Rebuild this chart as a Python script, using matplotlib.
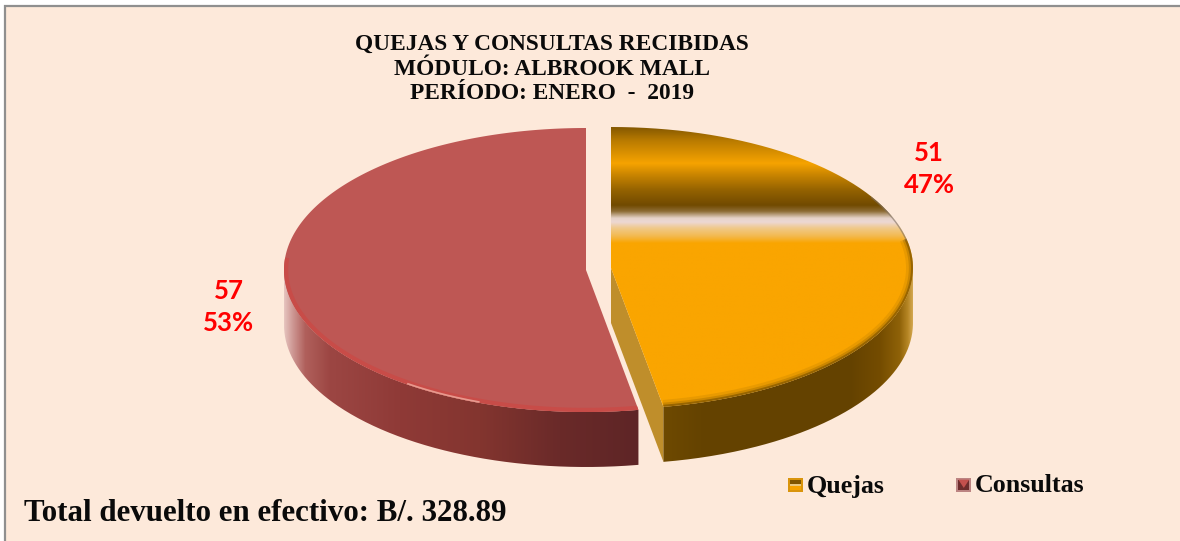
import numpy as np
import matplotlib
matplotlib.use("Agg")
import matplotlib.pyplot as plt
from matplotlib.colors import LinearSegmentedColormap
from matplotlib.patches import PathPatch, Rectangle, Polygon, Patch
from matplotlib.path import Path

# ---- data ----
categories = ["Quejas", "Consultas"]
values = [51, 57]
percent_labels = ["47%", "53%"]
title_lines = ["QUEJAS Y CONSULTAS RECIBIDAS", "MÓDULO: ALBROOK MALL", "PERÍODO: ENERO  -  2019"]
footer = "Total devuelto en efectivo: B/. 328.89"

BG = "#FDE9DA"
SERIF = "Liberation Serif"
W, H = 1180, 541

fig = plt.figure(figsize=(W / 100, H / 100), dpi=100, facecolor="white")
ax = fig.add_axes([0, 0, 1, 1])
ax.axis("off")

# panel
ax.add_patch(Rectangle((5, 6), W, H, facecolor=BG, edgecolor="#8f8f8f", lw=1.6, zorder=0))

# pie geometry
split = 360 * values[0] / sum(values)
RX, DEPTH = 302, 55
orange_c = (611, 268, 141)
red_c = (586, 270, 142)


def arc(c, a0, a1, dy=0, n=240):
    t = np.radians(np.linspace(a0, a1, n))
    return np.column_stack([c[0] + RX * np.sin(t), c[1] - c[2] * np.cos(t) + dy])


def make_path(xy):
    return Path(np.vstack([xy, xy[0]]), closed=False)


def gradient(xy, stops, horizontal, z):
    """Fill polygon xy with a gradient given as (pixel position, colour) stops."""
    poly = PathPatch(make_path(xy), facecolor="none", edgecolor="none", zorder=z)
    ax.add_patch(poly)
    lo, hi = stops[0][0], stops[-1][0]
    pos = [(p - lo) / (hi - lo) for p, _ in stops]
    cm = LinearSegmentedColormap.from_list("g", list(zip(pos, [c for _, c in stops])), N=512)
    ramp = np.linspace(0, 1, 512)
    if horizontal:
        img, ext = ramp[None, :], (lo, hi, xy[:, 1].max() + 1, xy[:, 1].min() - 1)
    else:
        img, ext = ramp[:, None], (xy[:, 0].min() - 1, xy[:, 0].max() + 1, hi, lo)
    im = ax.imshow(img, cmap=cm, extent=ext, aspect="auto", interpolation="bilinear", zorder=z)
    im.set_clip_path(poly)
    return poly


# ---- Consultas (red) ----
red_side = np.vstack([arc(red_c, split, 270), arc(red_c, 270, split, DEPTH)])
gradient(red_side,
         [(284, "#E6C4BE"), (292, "#CF9A96"), (305, "#B0605C"), (330, "#9C4643"), (400, "#8F3A37"),
          (480, "#83352F"), (560, "#6A2A29"), (640, "#5E2526")], True, 2)
red_top = np.vstack([[red_c[0], red_c[1]], arc(red_c, split, 360)])
red_face = Polygon(red_top, closed=True, facecolor="#BE5754", edgecolor="none", zorder=3)
ax.add_patch(red_face)
rim = arc(red_c, split, 275)
rim_line, = ax.plot(rim[:, 0], rim[:, 1], color="#C84C48", lw=6, zorder=4, solid_capstyle="butt")
rim_line.set_clip_path(red_face)
hl = arc(red_c, 201, 216)
hl_line, = ax.plot(hl[:, 0], hl[:, 1], color="#EBA296", lw=2.4, zorder=4, alpha=0.9)
hl_line.set_clip_path(red_face)

# ---- Quejas (orange) ----
ox, oy = orange_c[0], orange_c[1]
edge_pt = arc(orange_c, split, split, n=1)[0]
cut = np.array([[ox, oy], edge_pt, edge_pt + [0, DEPTH], [ox, oy + DEPTH]])
ax.add_patch(Polygon(cut, closed=True, facecolor="#BF8E2B", edgecolor="none", zorder=2))
orange_side = np.vstack([arc(orange_c, 90, split), arc(orange_c, split, 90, DEPTH)])
gradient(orange_side,
         [(660, "#6F4A00"), (700, "#654300"), (850, "#644200"), (880, "#744C00"), (900, "#8F6208"),
          (908, "#B68624"), (914, "#D9AE58")], True, 2)
orange_top = np.vstack([[ox, oy], arc(orange_c, 0, split)])
orange_face = gradient(orange_top,
         [(127, "#845800"), (140, "#B87A00"), (163, "#F6A300"), (175, "#C88400"), (190, "#946200"),
          (205, "#714A00"), (211, "#8C6B33"), (218, "#E6D3C9"), (222, "#EDD8D3"), (228, "#F0C98A"),
          (236, "#F3B94F"), (243, "#FAA500"), (410, "#FAA500")], False, 3)
for lw, al in [(10, 0.10), (6, 0.20), (3, 0.45)]:
    r = arc(orange_c, 78, split)
    ln, = ax.plot(r[:, 0], r[:, 1], color="#5A3C00", lw=lw, alpha=al, zorder=4, solid_capstyle="butt")
    ln.set_clip_path(orange_face)
g = arc(orange_c, 60, 78)
gl, = ax.plot(g[:, 0], g[:, 1], color="#807060", lw=2.0, alpha=0.6, zorder=4)
gl.set_clip_path(orange_face)

# ---- value labels ----
LAB = "Lato"
label_pos = [(929, 153, 185), (229, 291, 323)]
for (x, y1, y2), v, p in zip(label_pos, values, percent_labels):
    ax.text(x, y1, str(v), color="#FF0000", family=LAB, weight="bold", fontsize=18.5, ha="center", va="center", zorder=6)
    ax.text(x, y2, p, color="#FF0000", family=LAB, weight="bold", fontsize=18.5, ha="center", va="center", zorder=6)

# ---- title and footer ----
for y, line in zip([50, 75, 99], title_lines):
    ax.text(552, y, line, family=SERIF, weight="bold", fontsize=16.85, ha="center", va="baseline", color="#0A0A0A", zorder=6)
ax.text(24, 521, footer, family=SERIF, weight="bold", fontsize=22.3, ha="left", va="baseline", color="#0A0A0A", zorder=6)


# ---- legend with bevelled keys ----
KEY_SHAPES = {
    "Quejas": [([(0, 0), (1, 0), (1, 1), (0, 1)], "#D9940C"),
               ([(.14, .5), (.86, .5), (.86, .86), (.14, .86)], "#7E5500"),
               ([(.14, .42), (.86, .42), (.86, .54), (.14, .54)], "#E8C880"),
               ([(.14, .14), (.86, .14), (.86, .42), (.14, .42)], "#F5A200")],
    "Consultas": [([(0, 0), (1, 0), (1, 1), (0, 1)], "#BC8482"),
                  ([(.14, .14), (.86, .14), (.86, .86), (.14, .86)], "#6E2C2C"),
                  ([(.14, .86), (.86, .86), (.5, .3)], "#C4504D")],
}


class KeyHandler:
    def __init__(self, shapes):
        self.shapes = shapes

    def legend_artist(self, legend, orig, fontsize, box):
        x, y, w, h = box.xdescent, box.ydescent + 1.4, box.width, box.height
        tr = box.get_transform()
        for pts, col in self.shapes:
            box.add_artist(Polygon([(x + w * a, y + h * b) for a, b in pts], closed=True,
                                   facecolor=col, edgecolor="none", transform=tr))
        return Rectangle((x, y), w, h, visible=False)


handles = [Patch(label=c) for c in categories]
leg = ax.legend(handles=handles, ncols=2, loc="center left", bbox_to_anchor=(788 / W, 1 - 486 / H),
                frameon=False, borderpad=0, borderaxespad=0, handlelength=0.58, handleheight=0.5,
                handletextpad=0.15, columnspacing=2.75,
                prop={"family": SERIF, "weight": "bold", "size": 18.7},
                handler_map={h: KeyHandler(KEY_SHAPES[h.get_label()]) for h in handles})
leg.set_zorder(6)
for t in leg.get_texts():
    t.set_color("#0A0A0A")

ax.set_xlim(0, W)
ax.set_ylim(H, 0)
fig.savefig("out.png", dpi=100, facecolor="white")
